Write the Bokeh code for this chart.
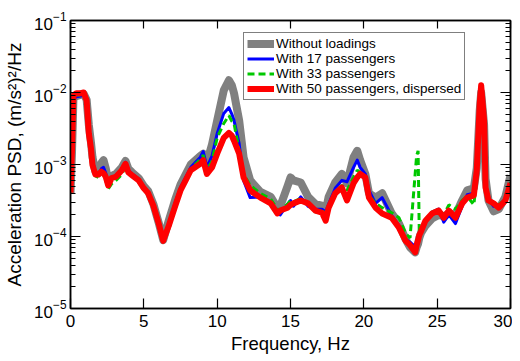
from bokeh.plotting import figure
from bokeh.models import (LogAxis, LinearAxis, FixedTicker, LogTicker, Range1d,
                          Legend, LegendItem, CustomJSTickFormatter, ColumnDataSource)
from bokeh.embed import file_html
from bokeh.resources import INLINE

# Frequency grid (Hz) shared by all series
freq = [0.0, 0.1, 0.2, 0.4, 0.7, 0.9, 1.1, 1.25, 1.4, 1.5, 1.7, 1.9, 2.1, 2.25, 2.4, 2.57,
        2.8, 3.1, 3.5, 3.75, 3.95, 4.2, 4.65, 5.0, 5.3, 5.65, 6.0, 6.32, 6.7, 7.15, 7.5,
        7.85, 8.2, 8.85, 9.05, 9.3, 9.65, 10.0, 10.45, 10.8, 11.0, 11.15, 11.5, 11.8,
        12.25, 12.95, 13.65, 14.1, 14.3, 14.8, 15.0, 15.2, 15.7, 16.2, 16.7, 17.15,
        17.4, 17.6, 18.05, 18.5, 18.85, 19.3, 19.55, 19.75, 20.1, 20.35, 20.8, 21.25,
        21.9, 22.4, 22.85, 23.15, 23.5, 23.6, 23.7, 23.78, 23.9, 24.2, 24.65, 25.1,
        25.45, 25.8, 26.25, 26.7, 27.05, 27.5, 27.7, 27.9, 28.0, 28.2, 28.3, 28.5,
        28.85, 29.2, 29.65, 30.0]

# log10 of acceleration PSD, (m/s^2)^2/Hz
log_psd_none = [-3.40, -2.85, -2.08, -2.05, -2.03, -2.02, -2.10, -2.45, -2.70, -2.90, -3.10, -3.12,
                -2.98, -2.94, -3.05, -3.22, -3.16, -3.13, -3.04, -2.95, -3.06, -3.11, -3.19,
                -3.30, -3.37, -3.55, -3.80, -4.05, -3.78, -3.48, -3.28, -3.14, -3.00, -2.88,
                -2.85, -2.97, -2.72, -2.39, -1.97, -1.83, -1.90, -2.01, -2.39, -2.90, -3.22,
                -3.38, -3.45, -3.60, -3.58, -3.30, -3.18, -3.22, -3.25, -3.45, -3.55, -3.57,
                -3.65, -3.45, -3.25, -3.13, -3.26, -2.90, -2.81, -2.94, -3.13, -3.40, -3.46,
                -3.40, -3.68, -3.82, -4.04, -4.15, -4.22, -4.15, -4.10, -4.02, -3.95, -3.85,
                -3.75, -3.70, -3.72, -3.68, -3.70, -3.50, -3.36, -3.33, -3.05, -2.25, -2.00,
                -2.45, -3.20, -3.50, -3.65, -3.62, -3.45, -3.15]

log_psd_17 = [-3.39, -2.85, -2.08, -2.06, -2.05, -2.02, -2.10, -2.48, -2.72, -2.93, -3.12, -3.14,
              -3.06, -3.04, -3.12, -3.27, -3.19, -3.15, -3.07, -2.97, -3.08, -3.13, -3.20,
              -3.31, -3.42, -3.57, -3.81, -4.06, -3.82, -3.52, -3.32, -3.18, -3.04, -2.90,
              -2.82, -3.04, -2.88, -2.57, -2.29, -2.21, -2.30, -2.39, -2.71, -3.22, -3.46,
              -3.45, -3.55, -3.64, -3.70, -3.55, -3.50, -3.58, -3.45, -3.58, -3.62, -3.62,
              -3.66, -3.55, -3.33, -3.22, -3.24, -3.04, -2.94, -3.04, -3.13, -3.36, -3.54,
              -3.46, -3.71, -3.85, -4.04, -4.08, -4.14, -4.08, -4.02, -3.96, -3.92, -3.80,
              -3.66, -3.62, -3.80, -3.70, -3.82, -3.58, -3.42, -3.40, -3.10, -2.40, -2.30,
              -2.60, -3.30, -3.48, -3.58, -3.58, -3.48, -3.25]

log_psd_33 = [-3.39, -2.83, -2.06, -2.04, -2.03, -2.01, -2.11, -2.52, -2.75, -2.96, -3.16, -3.18,
              -3.10, -3.12, -3.20, -3.34, -3.27, -3.22, -3.14, -3.02, -3.11, -3.15, -3.22,
              -3.32, -3.40, -3.57, -3.81, -4.06, -3.83, -3.55, -3.33, -3.20, -3.06, -2.93,
              -2.87, -3.08, -2.95, -2.63, -2.43, -2.32, -2.40, -2.43, -2.81, -3.13, -3.29,
              -3.40, -3.48, -3.62, -3.64, -3.55, -3.50, -3.52, -3.47, -3.56, -3.66, -3.65,
              -3.67, -3.60, -3.38, -3.29, -3.36, -3.18, -3.08, -3.11, -3.18, -3.43, -3.54,
              -3.60, -3.67, -3.74, -3.96, -4.02, -3.13, -2.88, -2.81, -3.95, -3.90, -3.76,
              -3.66, -3.62, -3.70, -3.56, -3.62, -3.50, -3.44, -3.56, -3.20, -2.35, -2.20,
              -2.55, -3.28, -3.48, -3.55, -3.56, -3.48, -3.25]

log_psd_50 = [-3.39, -2.81, -2.04, -2.01, -2.01, -2.00, -2.11, -2.57, -2.78, -3.01, -3.14, -3.14,
              -3.10, -3.12, -3.17, -3.29, -3.19, -3.17, -3.08, -2.99, -3.11, -3.15, -3.22,
              -3.33, -3.40, -3.57, -3.81, -4.06, -3.85, -3.57, -3.36, -3.22, -3.08, -2.99,
              -2.94, -3.13, -3.04, -2.85, -2.63, -2.56, -2.60, -2.67, -2.85, -3.18, -3.36,
              -3.46, -3.54, -3.68, -3.64, -3.60, -3.56, -3.54, -3.50, -3.54, -3.64, -3.67,
              -3.78, -3.60, -3.40, -3.32, -3.50, -3.26, -3.18, -3.13, -3.18, -3.46, -3.60,
              -3.68, -3.74, -3.88, -4.06, -4.12, -4.22, -4.12, -4.05, -3.98, -3.93, -3.78,
              -3.68, -3.64, -3.74, -3.64, -3.74, -3.54, -3.46, -3.43, -3.08, -2.15, -1.90,
              -2.39, -3.32, -3.50, -3.54, -3.60, -3.50, -3.26]

labels = ["Without loadings", "With 17 passengers", "With 33 passengers",
          "With 50 passengers, dispersed"]
x_ticks = [0, 5, 10, 15, 20, 25, 30]

FONT = "Liberation Sans"

p = figure(frame_width=440, frame_height=288, x_range=Range1d(0, 30), y_range=Range1d(1e-5, 1e-1),
           y_axis_type="log", output_backend="svg", toolbar_location=None,
           min_border_left=70, min_border_right=2, min_border_top=20, min_border_bottom=48)
p.background_fill_color = "white"
p.border_fill_color = "white"
p.grid.visible = False
p.outline_line_color = "black"
p.outline_line_width = 1.5

def psd(vals):
    return [10 ** v for v in vals]

src = ColumnDataSource(dict(f=freq, none=psd(log_psd_none), p17=psd(log_psd_17),
                            p33=psd(log_psd_33), p50=psd(log_psd_50)))

r0 = p.line("f", "none", source=src, line_color="#808080", line_width=8, line_join="round")
r1 = p.line("f", "p17", source=src, line_color="#0000ff", line_width=3, line_join="round")
r2 = p.line("f", "p33", source=src, line_color="#00c800", line_width=3, line_dash="7 4")
r3 = p.line("f", "p50", source=src, line_color="#ff0000", line_width=6, line_join="round")

# bottom axis
xa = p.xaxis[0]
xa.ticker = FixedTicker(ticks=x_ticks)
xa.axis_label = "Frequency, Hz"
xa.axis_label_text_font = FONT
xa.axis_label_text_font_size = "18.5px"
xa.axis_label_text_font_style = "normal"
xa.axis_label_text_color = "black"
xa.axis_label_standoff = 3
xa.major_label_text_font = FONT
xa.major_label_text_font_size = "17px"
xa.major_label_text_color = "black"
xa.major_label_standoff = 6
xa.major_tick_in = 10
xa.major_tick_out = 0
xa.minor_tick_line_color = None
xa.axis_line_width = 1.5
xa.major_tick_line_width = 1.2

ya = p.yaxis[0]
ya.ticker = LogTicker(num_minor_ticks=10)
ya.axis_label = "Acceleration PSD, (m/s²)²/Hz"
ya.axis_label_text_font = FONT
ya.axis_label_text_font_size = "19px"
ya.axis_label_text_font_style = "normal"
ya.axis_label_text_color = "black"
ya.axis_label_standoff = 6
ya.major_label_text_font = FONT
ya.major_label_text_font_size = "17px"
ya.major_label_text_color = "black"
ya.major_label_standoff = 4
ya.major_tick_in = 10
ya.major_tick_out = 0
ya.minor_tick_in = 5
ya.minor_tick_out = 0
ya.axis_line_width = 1.5
ya.major_tick_line_width = 1.2

blank = CustomJSTickFormatter(code="return ''")
top = LinearAxis(ticker=FixedTicker(ticks=x_ticks), formatter=blank,
                 major_tick_in=8, major_tick_out=0, minor_tick_line_color=None,
                 major_label_standoff=0, major_label_text_font_size="0px",
                 axis_line_width=1.5, major_tick_line_width=1.2)
p.add_layout(top, "above")
right = LogAxis(ticker=LogTicker(num_minor_ticks=10), formatter=blank,
                major_tick_in=10, major_tick_out=0, minor_tick_in=5, minor_tick_out=0,
                major_label_standoff=0, major_label_text_font_size="0px",
                axis_line_width=1.5, major_tick_line_width=1.2)
p.add_layout(right, "right")

legend = Legend(items=[LegendItem(label=labels[0], renderers=[r0]),
                       LegendItem(label=labels[1], renderers=[r1]),
                       LegendItem(label=labels[2], renderers=[r2]),
                       LegendItem(label=labels[3], renderers=[r3])],
                location=(173, 208), orientation="vertical",
                label_text_font=FONT, label_text_font_size="13.5px", label_text_color="black",
                glyph_width=27, glyph_height=15, label_height=15, label_standoff=2,
                spacing=0, padding=3, margin=0,
                border_line_color="black", border_line_width=1.2,
                background_fill_color="white", background_fill_alpha=1.0)
p.add_layout(legend, "center")

open("out.html", "w").write(file_html(p, INLINE))
